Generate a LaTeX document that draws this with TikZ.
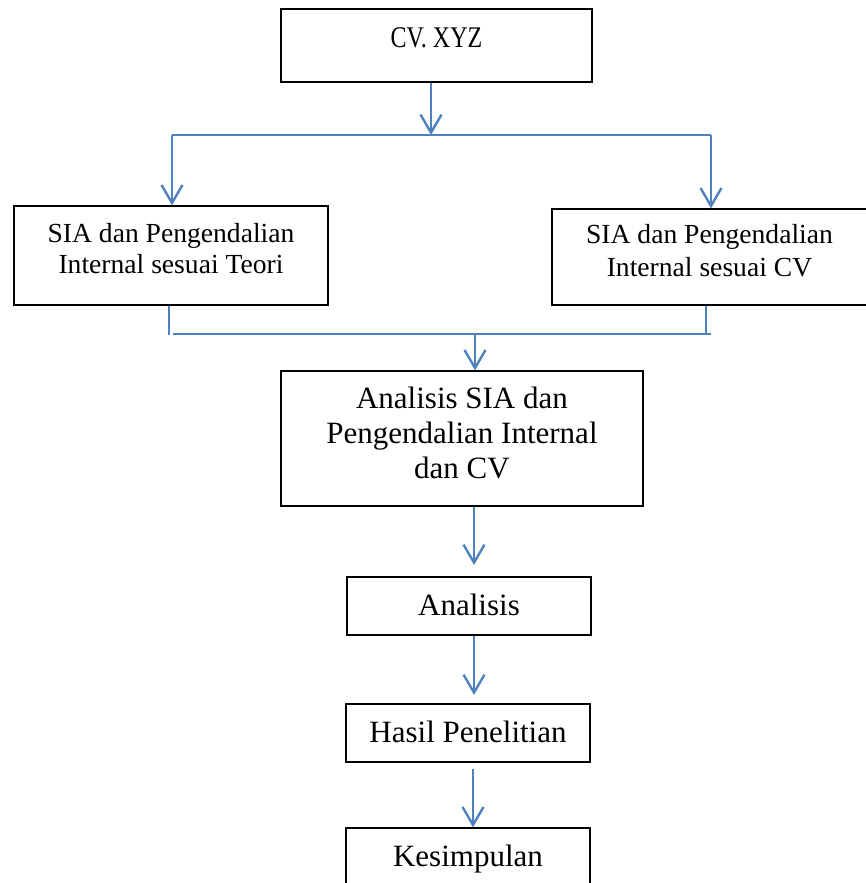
\documentclass[tikz,border=0pt]{standalone}
\usepackage{fontspec}
\setmainfont{Liberation Serif}
\usetikzlibrary{arrows.meta}
\definecolor{cblue}{RGB}{79,129,189}
\begin{document}
\begin{tikzpicture}[x=1pt,y=-1pt,
  box/.style={draw=black, line width=1.3pt, inner sep=0pt, align=center},
  arr/.style={draw=cblue, line width=2.4pt, -{Straight Barb[length=18pt,width=21pt,line width=2.4pt]}},
  ln/.style={draw=cblue, line width=2.4pt},
  big/.style={font=\fontsize{31}{35}\selectfont},
  mid/.style={font=\fontsize{27.6}{31}\selectfont},
  one/.style={text height=20pt, text depth=2pt, minimum width=244pt, minimum height=58pt}]
\useasboundingbox (0,0) rectangle (865,883);
\node[box, minimum width=311pt, minimum height=73pt, text height=19pt, text depth=14pt,
  font=\fontsize{30}{34}\selectfont\addfontfeature{FakeStretch=0.8}] (cv) at (436.5,45.5) {CV. XYZ};
\node[box, mid, minimum width=314pt, minimum height=99pt, text depth=15pt] (L) at (171,255.5)
  {SIA dan Pengendalian\\Internal sesuai Teori};
\node[box, font=\fontsize{27.6}{33}\selectfont, minimum width=315pt, minimum height=96pt, text depth=13pt] (R) at (709.5,257)
  {SIA dan Pengendalian\\Internal sesuai CV};
\node[box, big, minimum width=362pt, minimum height=135pt, text depth=11.5pt] (A) at (462,438.5)
  {Analisis SIA dan\\Pengendalian Internal\\dan CV};
\node[box, big, one] (An) at (469,606) {Analisis};
\node[box, big, one] (H) at (468,733) {Hasil Penelitian};
\node[box, big, one] (K) at (468,857) {Kesimpulan};
% top split
\coordinate (j1) at (431,135);
\coordinate (j1l) at (172,135);
\coordinate (j1r) at (711,135);
\draw[arr] (cv.south -| j1) -- (j1);
\draw[ln] (j1l) -- (j1r);
\draw[arr] (j1l) -- (L.north -| j1l);
\draw[arr] (j1r) -- (R.north -| j1r);
% merge
\coordinate (bl) at (169,335);
\coordinate (br) at (706,335);
\coordinate (j2) at (475,334);
\coordinate (j2l) at (173,334);
\coordinate (j2r) at (711,334);
\draw[ln] (L.south -| bl) -- (bl);
\draw[ln] (R.south -| br) -- (br);
\draw[ln] (j2l) -- (j2r);
\draw[arr] (j2) -- (A.north -| j2);
% chain
\coordinate (t3) at (474,565);
\draw[arr] (A.south -| t3) -- (t3);
\coordinate (t4) at (474,695);
\draw[arr] (An.south -| t4) -- (t4);
\coordinate (s5) at (473,769);
\draw[arr] (s5) -- (K.north -| s5);
\end{tikzpicture}
\end{document}
